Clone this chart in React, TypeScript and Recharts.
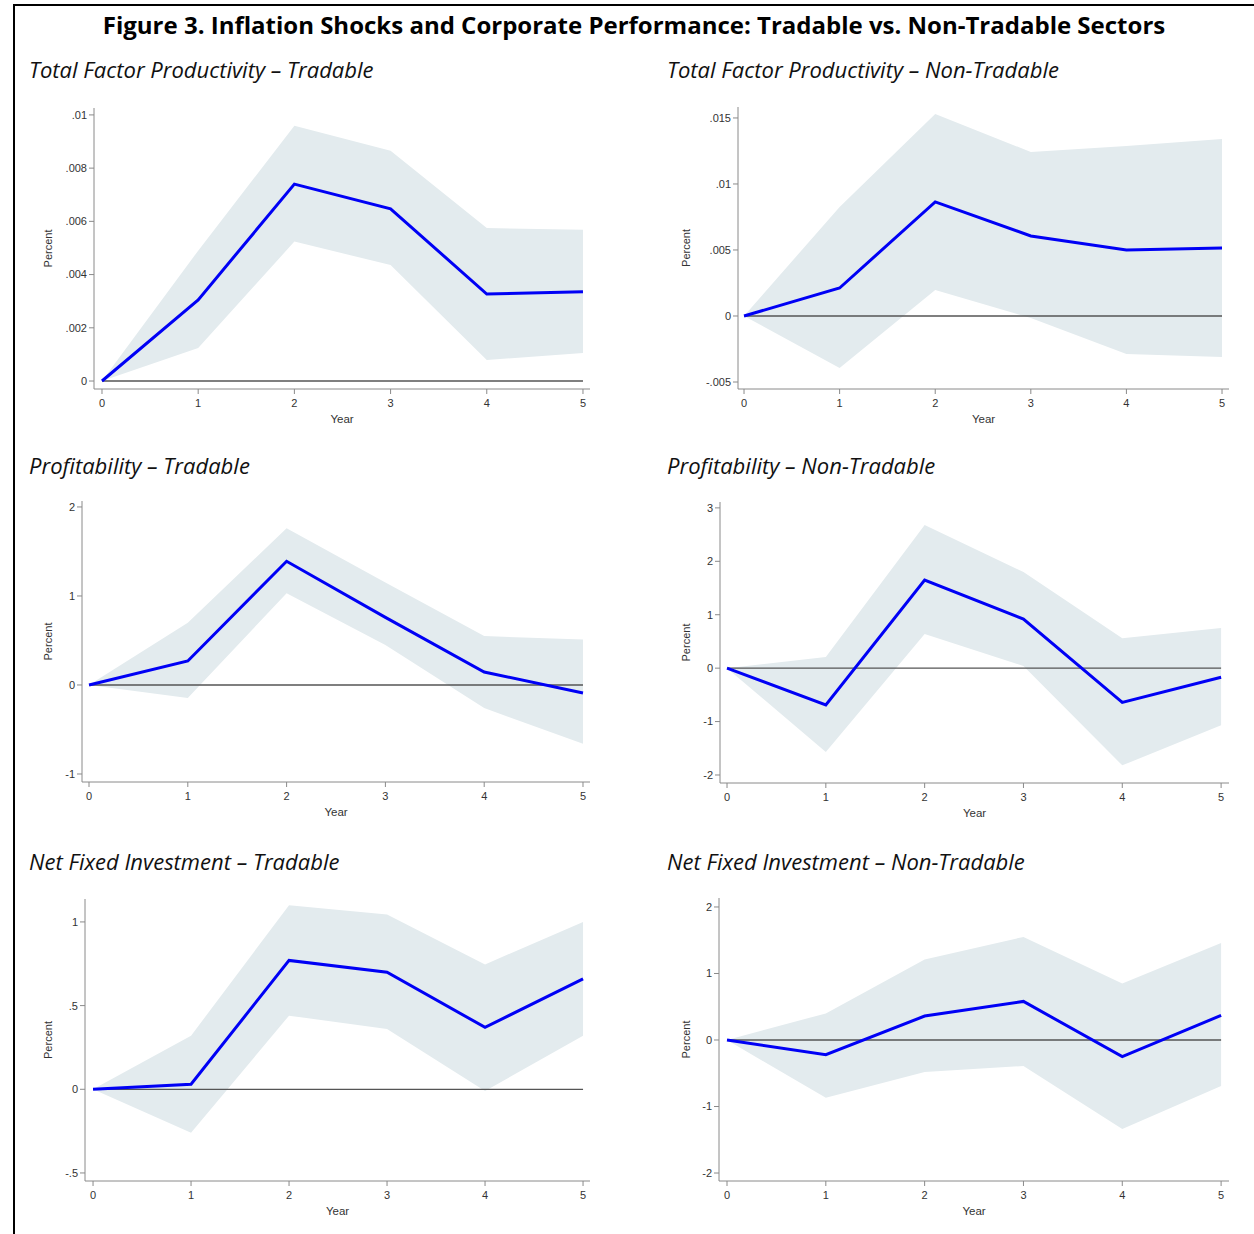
import { ComposedChart, Area, Line, XAxis, YAxis, ReferenceLine } from 'recharts';

const years = [0, 1, 2, 3, 4, 5];

// impulse responses with 90% bands
const tfpTrad = [0, 0.00305, 0.0074, 0.00647, 0.00327, 0.00335];
const tfpTradLo = [0, 0.00124, 0.00524, 0.00436, 0.00079, 0.00105];
const tfpTradHi = [0, 0.0049, 0.00959, 0.00865, 0.00575, 0.00568];

const tfpNon = [0, 0.00212, 0.00864, 0.00606, 0.005, 0.00515];
const tfpNonLo = [0, -0.00394, 0.00197, -0.00015, -0.00288, -0.0031];
const tfpNonHi = [0, 0.00826, 0.0153, 0.01242, 0.01288, 0.0134];

const profTrad = [0, 0.27, 1.39, 0.76, 0.146, -0.09];
const profTradLo = [0, -0.146, 1.03, 0.45, -0.26, -0.66];
const profTradHi = [0, 0.7, 1.76, 1.15, 0.55, 0.51];

const profNon = [0, -0.69, 1.65, 0.92, -0.64, -0.17];
const profNonLo = [0, -1.57, 0.64, 0.04, -1.82, -1.07];
const profNonHi = [0, 0.21, 2.68, 1.8, 0.56, 0.75];

const nfiTrad = [0, 0.03, 0.77, 0.7, 0.37, 0.66];
const nfiTradLo = [0, -0.26, 0.44, 0.36, -0.01, 0.32];
const nfiTradHi = [0, 0.32, 1.1, 1.045, 0.746, 1.0];

const nfiNon = [0, -0.22, 0.36, 0.58, -0.25, 0.37];
const nfiNonLo = [0, -0.87, -0.48, -0.39, -1.34, -0.69];
const nfiNonHi = [0, 0.4, 1.21, 1.55, 0.85, 1.46];

const tfpTradTicks = [0, 0.002, 0.004, 0.006, 0.008, 0.01];
const tfpNonTicks = [-0.005, 0, 0.005, 0.01, 0.015];
const profTradTicks = [-1, 0, 1, 2];
const profNonTicks = [-2, -1, 0, 1, 2, 3];
const nfiTradTicks = [-0.5, 0, 0.5, 1];
const nfiNonTicks = [-2, -1, 0, 1, 2];

const AXIS = '#8a8a8a';
const TXT = '#333';
const SANS = '"Liberation Sans", Arial, sans-serif';

const fmt = (v: number) => String(v).replace('0.', '.');

function build(mid: number[], lo: number[], hi: number[]) {
  return years.map((y, i) => ({ year: y, irf: mid[i], band: [lo[i], hi[i]] }));
}

type PanelProps = {
  title: string;
  tx: number;
  ty: number;
  box: { l: number; r: number; t: number; b: number };
  xPad: [number, number];
  yDomain: [number, number];
  yTicks: number[];
  yLabelGap: number;
  data: { year: number; irf: number; band: number[] }[];
};

function Panel({ title, tx, ty, box, xPad, yDomain, yTicks, yLabelGap, data }: PanelProps) {
  const left = box.l - 60;
  const top = box.t - 5;
  const width = box.r - left + 10;
  const height = box.b - top + 40;
  return (
    <>
      <div
        style={{
          position: 'absolute',
          left: tx,
          top: ty,
          fontFamily: '"Open Sans", "Noto Sans", sans-serif',
          fontStyle: 'italic',
          fontSize: 22,
          color: '#111',
          whiteSpace: 'nowrap',
        }}
      >
        {title}
      </div>
      <div style={{ position: 'absolute', left, top }}>
        <ComposedChart width={width} height={height} data={data} margin={{ top: 5, right: 10, left: 0, bottom: 0 }}>
          <XAxis
            dataKey="year"
            type="number"
            domain={[-xPad[0], 5 + xPad[1]]}
            ticks={years}
            height={40}
            stroke={AXIS}
            tickSize={5}
            tickMargin={5}
            tick={{ fontSize: 11, fill: TXT, fontFamily: SANS }}
            allowDataOverflow
            label={{
              value: 'Year',
              content: (p: any) => {
                const vb = p.viewBox;
                return (
                  <text x={vb.x + vb.width / 2} y={vb.y + 34} textAnchor="middle" fontSize={11.5} fill={TXT} fontFamily={SANS}>
                    Year
                  </text>
                );
              },
            }}
          />
          <YAxis
            type="number"
            domain={yDomain}
            ticks={yTicks}
            width={60}
            stroke={AXIS}
            tickSize={5}
            tickMargin={2}
            tickFormatter={fmt}
            tick={{ fontSize: 11, fill: TXT, fontFamily: SANS }}
            allowDataOverflow
            label={{
              value: 'Percent',
              content: (p: any) => {
                const vb = p.viewBox;
                const cx = vb.x + vb.width - yLabelGap;
                const cy = vb.y + vb.height / 2;
                return (
                  <text
                    x={cx}
                    y={cy}
                    transform={`rotate(-90 ${cx} ${cy})`}
                    textAnchor="middle"
                    dominantBaseline="central"
                    fontSize={11}
                    fill={TXT}
                    fontFamily={SANS}
                  >
                    Percent
                  </text>
                );
              },
            }}
          />
          <Area dataKey="band" stroke="none" fill="#e3ebee" fillOpacity={1} isAnimationActive={false} />
          <ReferenceLine
            segment={[
              { x: 0, y: 0 },
              { x: 5, y: 0 },
            ]}
            stroke="#555"
            strokeWidth={1.3}
          />
          <Line dataKey="irf" stroke="#0000f5" strokeWidth={3} dot={false} isAnimationActive={false} />
        </ComposedChart>
      </div>
    </>
  );
}

export default function App() {
  return (
    <div style={{ position: 'absolute', left: 0, top: 0, width: 1254, height: 1234, background: '#fff', overflow: 'hidden' }}>
      <div style={{ position: 'absolute', left: 13, top: 4, right: 0, height: 2, background: '#000' }} />
      <div style={{ position: 'absolute', left: 13, top: 4, width: 2, bottom: 0, background: '#000' }} />
      <div
        style={{
          position: 'absolute',
          left: 14,
          right: 0,
          top: 8,
          textAlign: 'center',
          fontFamily: '"Open Sans", "Noto Sans", sans-serif',
          fontWeight: 700,
          fontSize: 24,
          color: '#000',
          whiteSpace: 'nowrap',
        }}
      >
        Figure 3. Inflation Shocks and Corporate Performance: Tradable vs. Non-Tradable Sectors
      </div>

      <Panel
        title="Total Factor Productivity – Tradable"
        tx={29}
        ty={54}
        box={{ l: 94, r: 590, t: 108, b: 389 }}
        xPad={[0.083, 0.073]}
        yDomain={[-0.0003, 0.01026]}
        yTicks={tfpTradTicks}
        yLabelGap={46}
        data={build(tfpTrad, tfpTradLo, tfpTradHi)}
      />
      <Panel
        title="Total Factor Productivity – Non-Tradable"
        tx={667}
        ty={54}
        box={{ l: 738, r: 1229, t: 107, b: 389 }}
        xPad={[0.063, 0.073]}
        yDomain={[-0.00553, 0.01583]}
        yTicks={tfpNonTicks}
        yLabelGap={52}
        data={build(tfpNon, tfpNonLo, tfpNonHi)}
      />
      <Panel
        title="Profitability – Tradable"
        tx={29}
        ty={450}
        box={{ l: 82, r: 590, t: 501, b: 782 }}
        xPad={[0.071, 0.071]}
        yDomain={[-1.09, 2.067]}
        yTicks={profTradTicks}
        yLabelGap={34}
        data={build(profTrad, profTradLo, profTradHi)}
      />
      <Panel
        title="Profitability – Non-Tradable"
        tx={667}
        ty={450}
        box={{ l: 720, r: 1229, t: 502, b: 783 }}
        xPad={[0.071, 0.08]}
        yDomain={[-2.15, 3.11]}
        yTicks={profNonTicks}
        yLabelGap={34}
        data={build(profNon, profNonLo, profNonHi)}
      />
      <Panel
        title="Net Fixed Investment – Tradable"
        tx={29}
        ty={846}
        box={{ l: 85, r: 590, t: 899, b: 1181 }}
        xPad={[0.082, 0.071]}
        yDomain={[-0.548, 1.137]}
        yTicks={nfiTradTicks}
        yLabelGap={37}
        data={build(nfiTrad, nfiTradLo, nfiTradHi)}
      />
      <Panel
        title="Net Fixed Investment – Non-Tradable"
        tx={667}
        ty={846}
        box={{ l: 719, r: 1229, t: 898, b: 1181 }}
        xPad={[0.081, 0.08]}
        yDomain={[-2.12, 2.135]}
        yTicks={nfiNonTicks}
        yLabelGap={33}
        data={build(nfiNon, nfiNonLo, nfiNonHi)}
      />
    </div>
  );
}
